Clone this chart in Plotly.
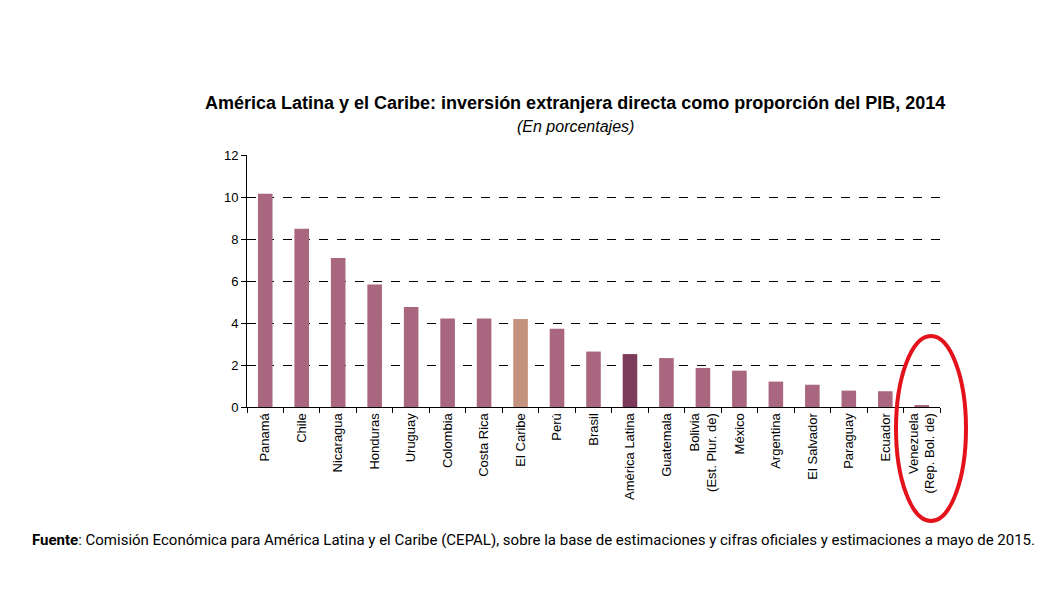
import plotly.graph_objects as go

categories = ["Panamá", "Chile", "Nicaragua", "Honduras", "Uruguay", "Colombia",
              "Costa Rica", "El Caribe", "Perú", "Brasil", "América Latina",
              "Guatemala", "Bolivia<br>(Est. Plur. de)", "México", "Argentina",
              "El Salvador", "Paraguay", "Ecuador", "Venezuela<br>(Rep. Bol. de)"]
values = [10.15, 8.49, 7.1, 5.83, 4.76, 4.22, 4.22, 4.19, 3.73, 2.64, 2.52,
          2.33, 1.86, 1.73, 1.21, 1.06, 0.78, 0.75, 0.05]
y_ticks = [0, 2, 4, 6, 8, 10, 12]

MAIN = "#A8667F"
CARIBE = "#C4937E"
LATAM = "#7D3B5C"
colors = []
for c in categories:
    if c == "El Caribe":
        colors.append(CARIBE)
    elif c == "América Latina":
        colors.append(LATAM)
    else:
        colors.append(MAIN)

OFF = 8  # page body margin
W, H = 1060, 600
L, R, T, B = 247 - OFF, 940 - OFF, 155 - OFF, 407 - OFF

fig = go.Figure(go.Bar(x=categories, y=values, marker=dict(color=colors, line=dict(width=0)),
                       width=0.4))

def px(x):
    return (x - OFF - L) / (R - L)

def py(y):
    return (B - (y - OFF)) / (B - T)

fig.update_layout(
    width=W, height=H,
    margin=dict(l=L, r=W - R, t=T, b=H - B, autoexpand=False),
    paper_bgcolor="white", plot_bgcolor="white",
    showlegend=False,
    bargap=0.6,
    font=dict(family="Liberation Sans, Arial, sans-serif", color="black"),
    xaxis=dict(showline=True, linecolor="black", linewidth=1, ticks="outside",
               tickson="boundaries", ticklen=5, tickcolor="black",
               tickangle=-90, tickfont=dict(size=13, color="black"),
               showgrid=False, automargin=False),
    yaxis=dict(range=[0, 12], tickvals=y_ticks, showline=True, linecolor="black",
               linewidth=1, ticks="outside", ticklen=5, tickcolor="black",
               tickfont=dict(size=13, color="black"), showgrid=True,
               gridcolor="black", griddash="dash", gridwidth=1, zeroline=False,
               automargin=False),
    annotations=[
        dict(text="<b>América Latina y el Caribe: inversión extranjera directa como proporción del PIB, 2014</b>",
             x=px(575), y=py(103), xref="paper", yref="paper", showarrow=False,
             xanchor="center", yanchor="middle",
             font=dict(family="Liberation Sans, Arial, sans-serif", size=18, color="black")),
        dict(text="<i>(En porcentajes)</i>",
             x=px(575), y=py(127), xref="paper", yref="paper", showarrow=False,
             xanchor="center", yanchor="middle",
             font=dict(family="Liberation Sans, Arial, sans-serif", size=16, color="black")),
        dict(text="<b>Fuente</b>: Comisión Económica para América Latina y el Caribe (CEPAL), sobre la base de estimaciones y cifras oficiales y estimaciones a mayo de 2015.",
             x=px(30), y=py(540), xref="paper", yref="paper", showarrow=False,
             xanchor="left", yanchor="middle",
             font=dict(family="Roboto, Liberation Sans, sans-serif", size=15, color="black")),
    ],
    shapes=[
        dict(type="circle", xref="paper", yref="paper",
             x0=px(896), x1=px(966), y0=py(336), y1=py(521),
             line=dict(color="#E3121B", width=4)),
    ],
)

fig.write_html("out.html")
